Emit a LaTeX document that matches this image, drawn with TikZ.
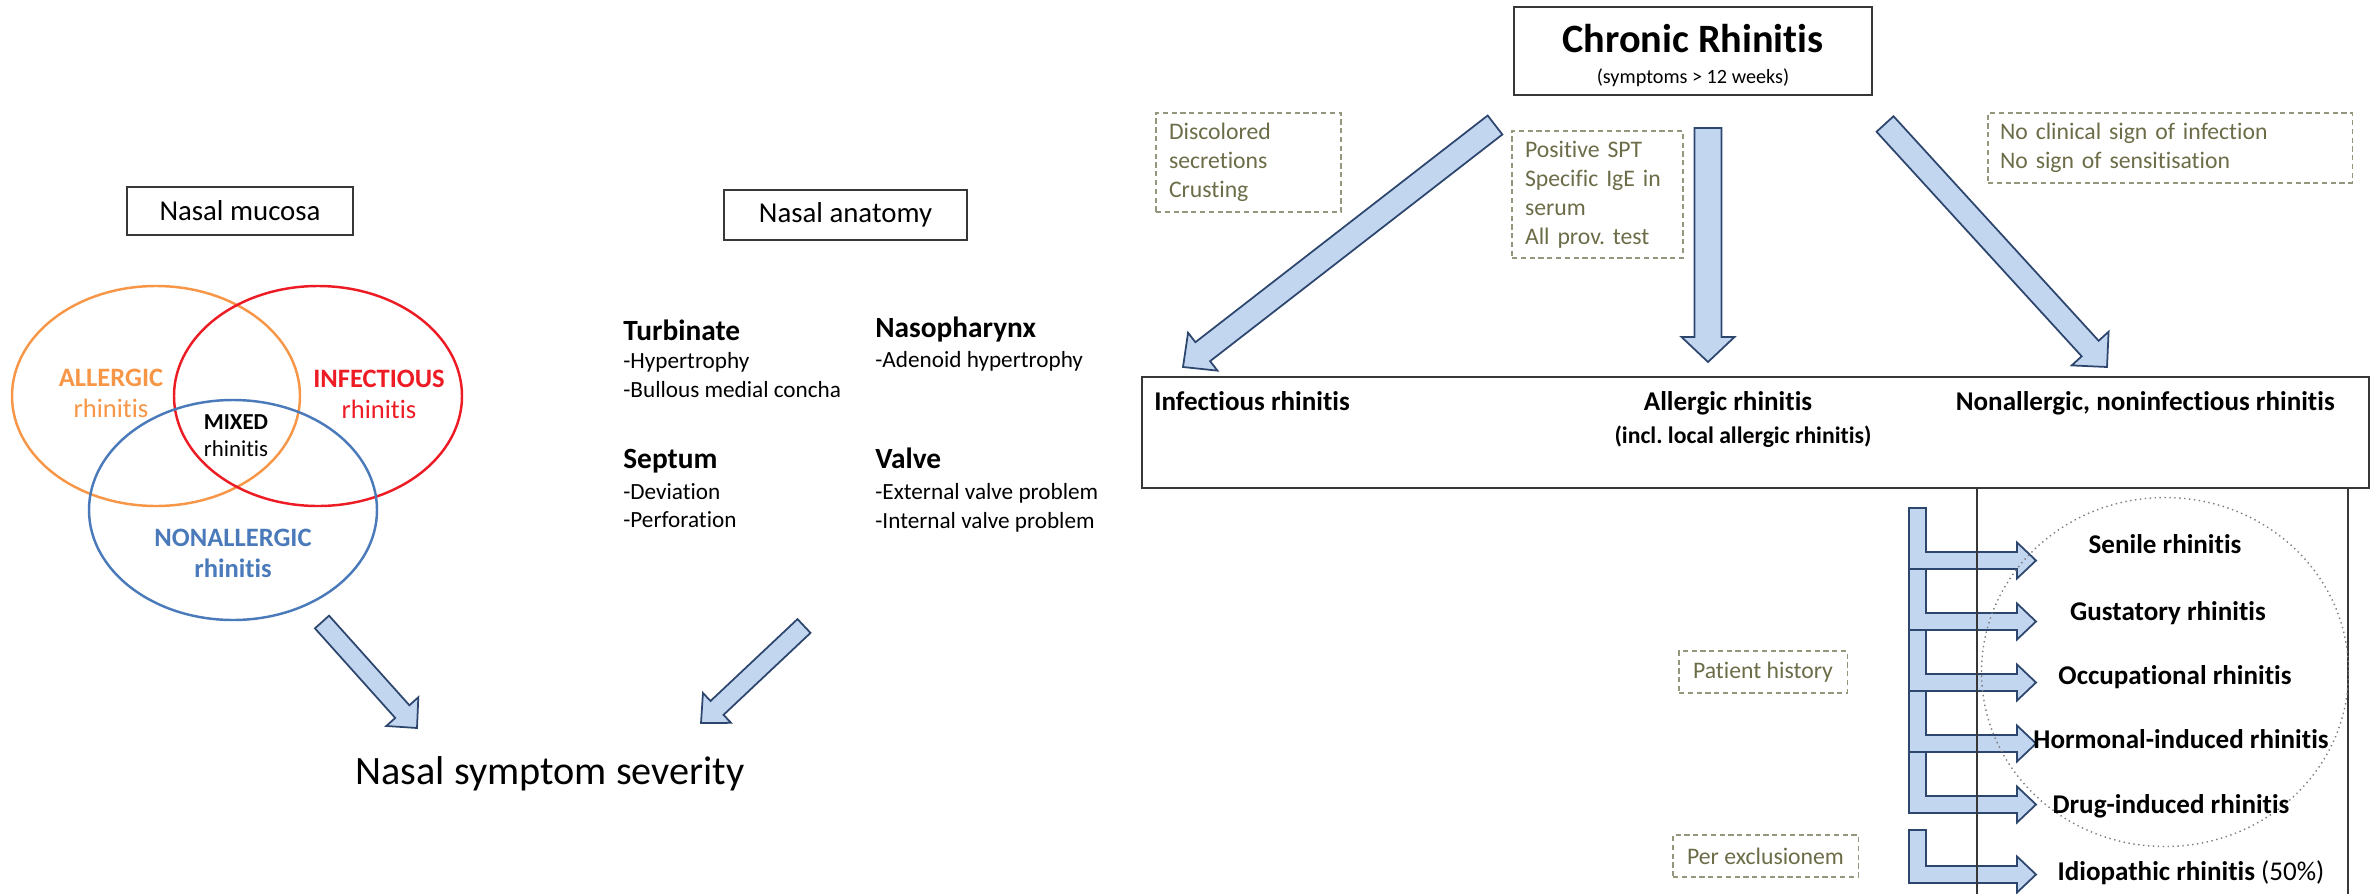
\documentclass[tikz,border=0pt]{standalone}
\usepackage{fontspec}
\setmainfont{Carlito}[Ligatures=NoCommon]
\usetikzlibrary{
  arrows.meta,
  positioning,
  calc,
  shapes.geometric
}
\frenchspacing
\definecolor{BoxGray}{RGB}{55,55,55}
\definecolor{AllergicOrange}{RGB}{246,150,70}
\definecolor{InfectRed}{RGB}{237,28,36}
\definecolor{NonallergicBlue}{RGB}{74,122,186}
\definecolor{ArrowFill}{RGB}{195,214,240}
\definecolor{ArrowLine}{RGB}{45,70,110}
\definecolor{HintOlive}{RGB}{108,108,72}
\definecolor{HintBorder}{RGB}{150,150,125}
\definecolor{CircleGray}{RGB}{125,125,125}
\tikzset{
  plainbox/.style={
    draw=BoxGray,
    line width=0.9pt,
    inner sep=0pt,
    align=center,
    font=\fontsize{16.4}{19}\selectfont
  },
  venn/.style={ellipse, line width=1.4pt, minimum width=57.6mm, minimum height=44mm, inner sep=0pt},
  vennlabel/.style={align=center, inner sep=0pt, font=\fontsize{15.1}{17.6}\selectfont},
  headtext/.style={anchor=base west, inner sep=0pt, font=\bfseries\fontsize{16.7}{20}\selectfont},
  itemtext/.style={anchor=north west, inner sep=0pt, align=left, font=\fontsize{13.2}{16.3}\selectfont},
  hintbox/.style={
    draw=HintBorder,
    densely dashed,
    line width=0.6pt,
    text=HintOlive,
    inner xsep=2.6mm,
    inner ysep=0pt,
    align=left,
    font=\fontsize{13.5}{16.5}\selectfont
  },
  typetext/.style={anchor=base, inner sep=0pt, font=\bfseries\fontsize{15.4}{18}\selectfont},
  blockarrow/.style={fill=ArrowFill, draw=ArrowLine, line width=1pt, line join=miter}
}
% fat arrow: tail, tip, shaft half width, head half width, head length
\newcommand{\fatarrow}[5]{%
  \coordinate (fabase) at ($(#2)!#5!(#1)$);
  \filldraw[blockarrow] ($(#1)!#3!90:(#2)$) -- ($(fabase)!#3!90:(#2)$)
    -- ($(fabase)!#4!90:(#2)$) -- (#2) -- ($(fabase)!#4!-90:(#2)$)
    -- ($(fabase)!#3!-90:(#2)$) -- ($(#1)!#3!-90:(#2)$) -- cycle;
}

\begin{document}
\begin{tikzpicture}[x=0.2mm, y=-0.2mm]
  \useasboundingbox (0,0) rectangle (2379,893);

  % left: mucosa
  \node[plainbox, minimum width=45.2mm, minimum height=9.6mm] (mucosa) at (240,211) {Nasal mucosa};
  \node[venn, draw=AllergicOrange] (allergic) at (156,396) {};
  \node[venn, draw=InfectRed] (infectious) at (318,396) {};
  \node[venn, draw=NonallergicBlue] (nonallergic) at (233,510) {};
  \node[vennlabel, text=AllergicOrange] (allergiclbl) at (111,393) {\bfseries ALLERGIC\\rhinitis};
  \node[vennlabel, text=InfectRed] (infectiouslbl) at (379,394) {\bfseries INFECTIOUS\\rhinitis};
  \node[vennlabel, font=\fontsize{13}{15.4}\selectfont] (mixedlbl) at (236,436) {\bfseries MIXED\\rhinitis};
  \node[vennlabel, text=NonallergicBlue, font=\bfseries\fontsize{15.1}{17.6}\selectfont] (nonallergiclbl) at (233,553) {NONALLERGIC\\rhinitis};

  % left: anatomy
  \node[plainbox, minimum width=48.6mm, minimum height=10mm] (anatomy) at (845.5,215) {Nasal anatomy};
  \node[headtext] (turb) at (623,340) {Turbinate};
  \node[itemtext] (turbitems) at (623,352) {-Hypertrophy\\-Bullous medial concha};
  \node[headtext] (naso) at (875,337) {Nasopharynx};
  \node[itemtext] (nasoitems) at (875,351) {-Adenoid hypertrophy};
  \node[headtext] (sept) at (623,468) {Septum};
  \node[itemtext] (septitems) at (623,483) {-Deviation\\-Perforation};
  \node[headtext] (valve) at (875,468) {Valve};
  \node[itemtext] (valveitems) at (875,483) {-External valve problem\\-Internal valve problem};

  \node[anchor=base, inner sep=0pt, font=\fontsize{22.9}{27}\selectfont] (severity) at (550,784) {Nasal symptom severity};
  \coordinate (mucTail) at (322,622);
  \coordinate (mucTip) at (417,728);
  \coordinate (anaTail) at (804,626);
  \coordinate (anaTip) at (701,723);
  \fatarrow{mucTail}{mucTip}{1.9mm}{4.3mm}{4.4mm}
  \fatarrow{anaTail}{anaTip}{1.9mm}{4.1mm}{4.4mm}

  % right: classification
  \node[plainbox, minimum width=71.6mm, minimum height=17.6mm] (chronic) at (1693,51) {};
  \node[anchor=base, inner sep=0pt, font=\bfseries\fontsize{22.9}{27}\selectfont] (chronictitle) at (1693,52) {Chronic Rhinitis};
  \node[anchor=base, inner sep=0pt, font=\fontsize{11.5}{14}\selectfont] (chronicsub) at (1693,83) {(symptoms > 12 weeks)};

  \node[hintbox, text width=31.8mm, minimum height=19.8mm] (infsign) at (1248.5,162.5) {Discolored\\secretions\\Crusting};
  \node[hintbox, text width=29mm, minimum height=25.4mm] (allsign) at (1597.5,194.5) {Positive SPT\\Specific IgE in\\serum\\All prov. test};
  \node[hintbox, inner xsep=2.4mm, text width=68mm, minimum height=14mm] (nonsign) at (2170,148) {No clinical sign of infection\\No sign of sensitisation};

  \coordinate (infTail) at (1495,125);
  \coordinate (infTip) at (1183,367);
  \coordinate (allTail) at (1708,128);
  \coordinate (allTip) at (1708,362);
  \coordinate (nonTail) at (1885,124);
  \coordinate (nonTip) at (2107,367);
  \fatarrow{infTail}{infTip}{2.4mm}{4.8mm}{5mm}
  \fatarrow{allTail}{allTip}{2.7mm}{5.3mm}{5mm}
  \fatarrow{nonTail}{nonTip}{2.3mm}{5mm}{5mm}

  \node[plainbox, minimum width=245.4mm, minimum height=22.2mm] (types) at (1755.5,432.5) {};
  \node[typetext, anchor=base west] (inftype) at (1154,410) {Infectious rhinitis};
  \node[typetext] (alltype) at (1728,410) {Allergic rhinitis};
  \node[typetext, font=\bfseries\fontsize{13.5}{16}\selectfont] (allnote) at (1743,443) {(incl. local allergic rhinitis)};
  \node[typetext, anchor=base east] (nontype) at (2335,410) {Nonallergic, noninfectious rhinitis};

  % steps down the nonallergic list
  \foreach \ytop/\ymid in {508/560.5, 569/621.5, 630/682.5, 691/743.5, 752/804.5, 830/874.5}
    \filldraw[blockarrow] (1909,\ytop) -- (1926,\ytop) -- (1926,\ymid-8.5) -- (2017,\ymid-8.5)
      -- (2017,\ymid-18) -- (2036,\ymid) -- (2017,\ymid+18) -- (2017,\ymid+8.5)
      -- (1909,\ymid+8.5) -- cycle;

  \node[plainbox, minimum width=74.2mm, minimum height=84.4mm] (nonbox) at (2162.5,699) {};
  \node[ellipse, draw=CircleGray, dotted, line width=0.8pt, minimum width=73.4mm, minimum height=69.8mm, inner sep=0pt] (history) at (2165,672) {};

  \node[hintbox, align=center, minimum width=33.6mm, minimum height=8.4mm, inner xsep=0pt] (histnote) at (1763,672) {Patient history};
  \node[hintbox, align=center, minimum width=37mm, minimum height=8.4mm, inner xsep=0pt] (exclnote) at (1765.5,856) {Per exclusionem};

  \node[typetext] (senile) at (2165,553) {Senile rhinitis};
  \node[typetext] (gustatory) at (2168,620) {Gustatory rhinitis};
  \node[typetext] (occupational) at (2175,684) {Occupational rhinitis};
  \node[typetext] (hormonal) at (2181,748) {Hormonal-induced rhinitis};
  \node[typetext] (drug) at (2171,813) {Drug-induced rhinitis};
  \node[typetext] (idiopathic) at (2191,880) {Idiopathic rhinitis {\mdseries (50\%)}};
\end{tikzpicture}
\end{document}
